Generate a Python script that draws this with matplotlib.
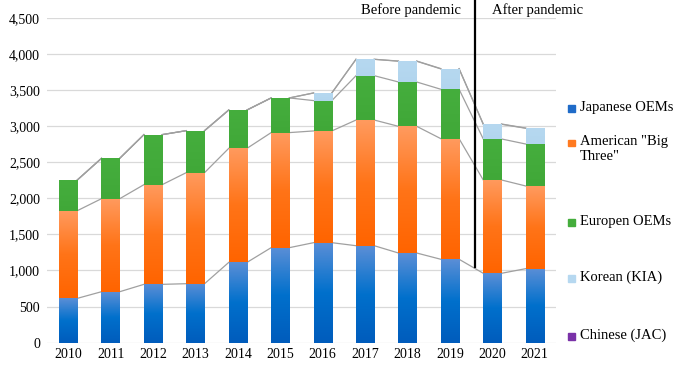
import numpy as np
import matplotlib
matplotlib.use("Agg")
import matplotlib.pyplot as plt
from matplotlib.colors import LinearSegmentedColormap
from matplotlib.patches import Rectangle

plt.rcParams['font.family'] = ['Liberation Serif', 'DejaVu Serif']

years = [str(y) for y in range(2010, 2022)]
japanese = [614, 706, 808, 817, 1112, 1316, 1385, 1343, 1242, 1155, 961, 1025]
american = [1214, 1288, 1380, 1538, 1579, 1593, 1547, 1740, 1754, 1670, 1292, 1145]
european = [425, 559, 693, 581, 531, 480, 420, 614, 614, 684, 568, 581]
korean = [0, 0, 0, 0, 0, 0, 106, 227, 287, 282, 203, 218]
chinese = [0, 0, 0, 0, 0, 0, 0, 0, 3, 4, 4, 3]

names = ['Japanese OEMs', 'American "Big\nThree"', 'Europen OEMs', 'Korean (KIA)', 'Chinese (JAC)']
series = [japanese, american, european, korean, chinese]
# gradient stops bottom -> middle -> top for each series
grads = [('#005cbc', '#0070cc', '#5a8ed6'), ('#ff6400', '#ff7418', '#ff9a5e'),
         ('#40a838', '#43ab3b', '#45ae3d'), ('#b2d5ee', '#b4d7ef', '#b6d8f0'),
         ('#7030a0', '#7432a4', '#7a36a8')]
legend_colors = ['#1f6bc8', '#ff7a20', '#44ad3c', '#b6d8f0', '#7a32a8']

fig = plt.figure(figsize=(6.76, 3.67), dpi=100)
ax = fig.add_axes([0.0695, 0.0662, 0.753, 0.8856])

x = np.arange(len(years))
w = 0.43
bottom = np.zeros(len(years))
tops = []
for vals, stops in zip(series, grads):
    vals = np.array(vals, dtype=float)
    bars = ax.bar(x, vals, w, bottom=bottom, color='none', edgecolor='none', zorder=3)
    cmap = LinearSegmentedColormap.from_list('g', list(stops))
    grad = np.linspace(0, 1, 64).reshape(-1, 1)
    for b, v in zip(bars, vals):
        if v <= 0:
            continue
        x0, y0 = b.get_x(), b.get_y()
        im = ax.imshow(grad, cmap=cmap, origin='lower', aspect='auto',
                       extent=[x0, x0 + w, y0, y0 + v], zorder=3, interpolation='bicubic')
        im.set_clip_path(b)
    bottom = bottom + vals
    tops.append(bottom.copy())

# series lines between bars
for t in tops:
    for i in range(len(years) - 1):
        ax.plot([x[i] + w / 2, x[i + 1] - w / 2], [t[i], t[i + 1]],
                color='#a0a0a0', lw=0.9, zorder=2)

ax.set_xlim(-0.5, len(years) - 0.5)
ax.set_ylim(0, 4500)
ax.set_yticks(range(0, 4501, 500))
ax.set_yticklabels([f'{v:,}' for v in range(0, 4501, 500)])
ax.set_xticks(x)
ax.set_xticklabels(years)
ax.tick_params(length=0, labelsize=10, colors='#000000')
ax.tick_params(axis='y', pad=5)
ax.tick_params(axis='x', pad=4)
for s in ax.spines.values():
    s.set_visible(False)
ax.grid(axis='y', color='#d9d9d9', lw=0.9, zorder=0)
ax.set_axisbelow(True)

# pandemic divider
ax.plot([9.6, 9.6], [1050, 4760], color='black', lw=1.6, clip_on=False, zorder=5)
ax.text(8.07, 4600, 'Before pandemic', ha='center', va='center', fontsize=10.5)
ax.text(11.06, 4600, 'After pandemic', ha='center', va='center', fontsize=10.5)

# legend
leg_y = [108, 143, 222, 278, 336]
for name, c, yy in zip(names, legend_colors, leg_y):
    fy = 1 - yy / 367
    fig.add_artist(Rectangle((568 / 676, fy - 3.5 / 367), 7 / 676, 7 / 367,
                             transform=fig.transFigure, color=c))
    fig.text(580 / 676, fy + 7.5 / 367, name, ha='left', va='top', fontsize=10.5,
             linespacing=1.15)

fig.savefig('out.png', dpi=100)
